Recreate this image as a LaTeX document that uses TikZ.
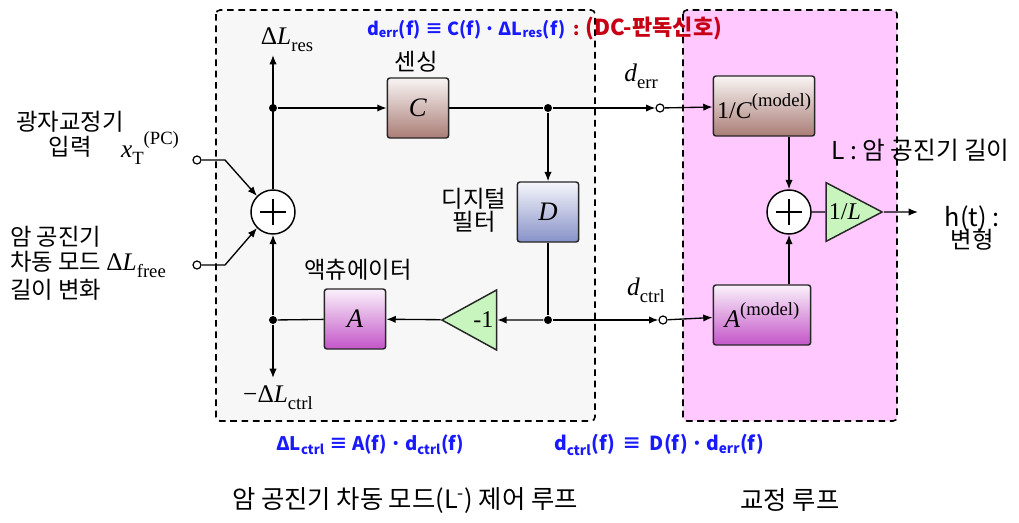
\documentclass[tikz,border=0pt]{standalone}
\usepackage{fontspec}
\setmainfont{Liberation Serif}
\newfontfamily\kr{Noto Sans CJK KR}
\usetikzlibrary{arrows.meta,shapes.geometric,positioning}

\definecolor{senscol}{RGB}{170,125,118}
\definecolor{filtcol}{RGB}{135,145,200}
\definecolor{actcol}{RGB}{195,85,200}
\definecolor{gaincol}{RGB}{200,245,190}
\definecolor{loopbg}{RGB}{247,247,247}
\definecolor{calbg}{RGB}{255,200,255}
\definecolor{eqblue}{RGB}{25,25,255}
\definecolor{eqred}{RGB}{200,0,20}

% sub- and superscripts in text mode
\newcommand{\lo}[1]{\raisebox{-0.28em}{\fontsize{14}{14}\selectfont #1}}
\newcommand{\hi}[1]{\raisebox{0.5em}{\fontsize{14}{14}\selectfont #1}}

\tikzset{
  blk/.style={draw=black!85, line width=1.1pt, rounded corners=2pt,
    minimum width=46pt, minimum height=45pt, inner sep=1pt, font=\fontsize{20}{22}\selectfont},
  sens/.style={blk, top color=senscol!8, bottom color=senscol},
  filt/.style={blk, top color=filtcol!8, bottom color=filtcol},
  act/.style={blk, top color=actcol!8, bottom color=actcol},
  gain/.style={draw=black!85, line width=1.1pt, fill=gaincol, isosceles triangle,
    isosceles triangle stretches, inner sep=0pt, minimum width=45pt, minimum height=41pt,
    font=\fontsize{18}{20}\selectfont},
  sumnode/.style={draw, circle, line width=1.1pt, fill=white, minimum size=33pt, inner sep=0pt,
    path picture={
      \draw[line width=1pt] ([xshift=-9.5pt]path picture bounding box.center) -- ([xshift=9.5pt]path picture bounding box.center);
      \draw[line width=1pt] ([yshift=-9.5pt]path picture bounding box.center) -- ([yshift=9.5pt]path picture bounding box.center);}},
  dot/.style={circle, fill, inner sep=0pt, minimum size=6pt},
  port/.style={circle, draw, line width=0.9pt, fill=white, inner sep=0pt, minimum size=6pt},
  dashbox/.style={dashed, dash pattern=on 5pt off 3.5pt, line width=1.2pt, rounded corners=3pt},
  klab/.style={font=\kr\fontsize{17.5}{20}\selectfont},
  mlab/.style={font=\fontsize{19}{22}\selectfont},
  eq/.style={font=\kr\bfseries\fontsize{13.5}{15}\selectfont, text=eqblue, anchor=west},
}

\begin{document}
\begin{tikzpicture}[x=0.75pt, y=-0.75pt, >={Latex[length=7pt,width=5.5pt]}, line width=1pt]
  \useasboundingbox (0,0) rectangle (1019,522);

  % loop areas
  \draw[dashbox, fill=loopbg] (216,10) rectangle (595,421);
  \draw[dashbox, fill=calbg] (683,10) rectangle (897,421);

  % blocks
  \node[sens] (C) at (418,108) {\textit{C}};
  \node[filt] (D) at (548,212) {\textit{D}};
  \node[act] (A) at (355,319) {\textit{A}};
  \node[sens, minimum width=76pt, font=\fontsize{18}{20}\selectfont] (Cm) at (764,106) {1/\textit{C}\hi{(model)}};
  \node[act, minimum width=73pt, font=\fontsize{19}{20}\selectfont] (Am) at (762,315) {\textit{A}\hi{(model)}};
  \node[gain, shape border rotate=180, anchor=apex] (inv) at (440,320) {\ \,-1};
  \node[gain, minimum width=44pt, minimum height=42pt, anchor=apex] (gl) at (884,212) {1/\textit{L}\ };
  \node[sumnode] (sl) at (273,212) {};
  \node[sumnode] (sr) at (789,212) {};

  % junctions and ports
  \node[dot] (j1) at (273,108) {};
  \node[dot] (j2) at (548,108) {};
  \node[dot] (j3) at (548,320) {};
  \node[dot] (j4) at (273,320) {};
  \node[port] (pe) at (660,108) {};
  \node[port] (pc) at (663,320) {};
  \node[port] (px) at (197,160) {};
  \node[port] (pf) at (197,265) {};
  \coordinate (res) at (273,55);
  \coordinate (ctl) at (273,378);
  \coordinate (out) at (918,212);
  \coordinate (kx) at (225,160);
  \coordinate (kf) at (225,265);

  % labels
  \node[mlab] (lres) at (287,40) {Δ\textit{L}\lo{res}};
  \node[mlab] (lctl) at (278,398) {−Δ\textit{L}\lo{ctrl}};
  \node[mlab] (lerr) at (641,76) {\textit{d}\lo{err}};
  \node[mlab] (lctr) at (646,290) {\textit{d}\lo{ctrl}};
  \node[mlab] (lxt) at (150,148) {\textit{x}\lo{T}\hi{(PC)}};
  \node[klab] (tsens) at (416,62) {센싱};
  \node[klab, align=center] (tfilt) at (474,210) {디지털\\[-3pt]필터};
  \node[klab] (tact) at (358,270) {액츄에이터};
  \node[klab, align=center] (tpc) at (70,134) {광자교정기\\[-1pt]입력};
  \node[klab, align=left, anchor=west] (tfree) at (5,263)
    {암 공진기\\[-1pt]차동 모드 {\rmfamily\fontsize{19}{20}\selectfont Δ\textit{L}\lo{free}}\\[1pt]길이 변화};
  \node[klab, font=\kr\fontsize{18.5}{20}\selectfont, anchor=west] (tlen) at (826,150) {L : 암 공진기 길이};
  \node[klab, align=center] (tout) at (972,228) {{\fontsize{19}{20}\selectfont h(t)\ :}\\[-3pt]변형};

  \node[eq] (eqerr) at (362,28)
    {d\textsubscript{err}(f) ≡ C(f)\,·\,ΔL\textsubscript{res}(f) \ \textcolor{eqred}{: {\fontsize{16.5}{18}\selectfont (DC-판독신호)}}};
  \node[eq, font=\kr\bfseries\fontsize{14}{16}\selectfont] (eqact) at (271,445) {ΔL\textsubscript{ctrl} ≡ A(f)\,·\,d\textsubscript{ctrl}(f)};
  \node[eq, font=\kr\bfseries\fontsize{14.5}{16}\selectfont] (eqfilt) at (549,445) {d\textsubscript{ctrl}(f) \,≡\, D(f)\,·\,d\textsubscript{err}(f)};
  \node[klab, font=\kr\fontsize{19}{22}\selectfont] (cap1) at (405,500) {암 공진기 차동 모드(L\textsuperscript{-}) 제어 루프};
  \node[klab, font=\kr\fontsize{19}{22}\selectfont] (cap2) at (790,500) {교정 루프};

  % connections
  \draw[->] (sl) -- (res);
  \draw[->] (j1) -- (C);
  \draw (C) -- (j2);
  \draw[->] (j2) -- (pe);
  \draw[->] (pe) -- (Cm);
  \draw[->] (j2) -- (D);
  \draw (D) -- (j3);
  \draw[->] (j3) -- (inv);
  \draw[->] (inv) -- (A);
  \draw (A) -- (j4);
  \draw[->] (j4) -- (sl);
  \draw[->] (j4) -- (ctl);
  \draw[->] (j3) -- (pc);
  \draw[->] (pc) -- (Am);
  \draw[->] (Cm.south -| sr) -- (sr);
  \draw[->] (Am.north -| sr) -- (sr);
  \draw (sr) -- (gl);
  \draw[->] (gl) -- (out);
  \draw[->] (px) -- (kx) -- (sl.135);
  \draw[->] (pf) -- (kf) -- (sl.225);
\end{tikzpicture}
\end{document}
